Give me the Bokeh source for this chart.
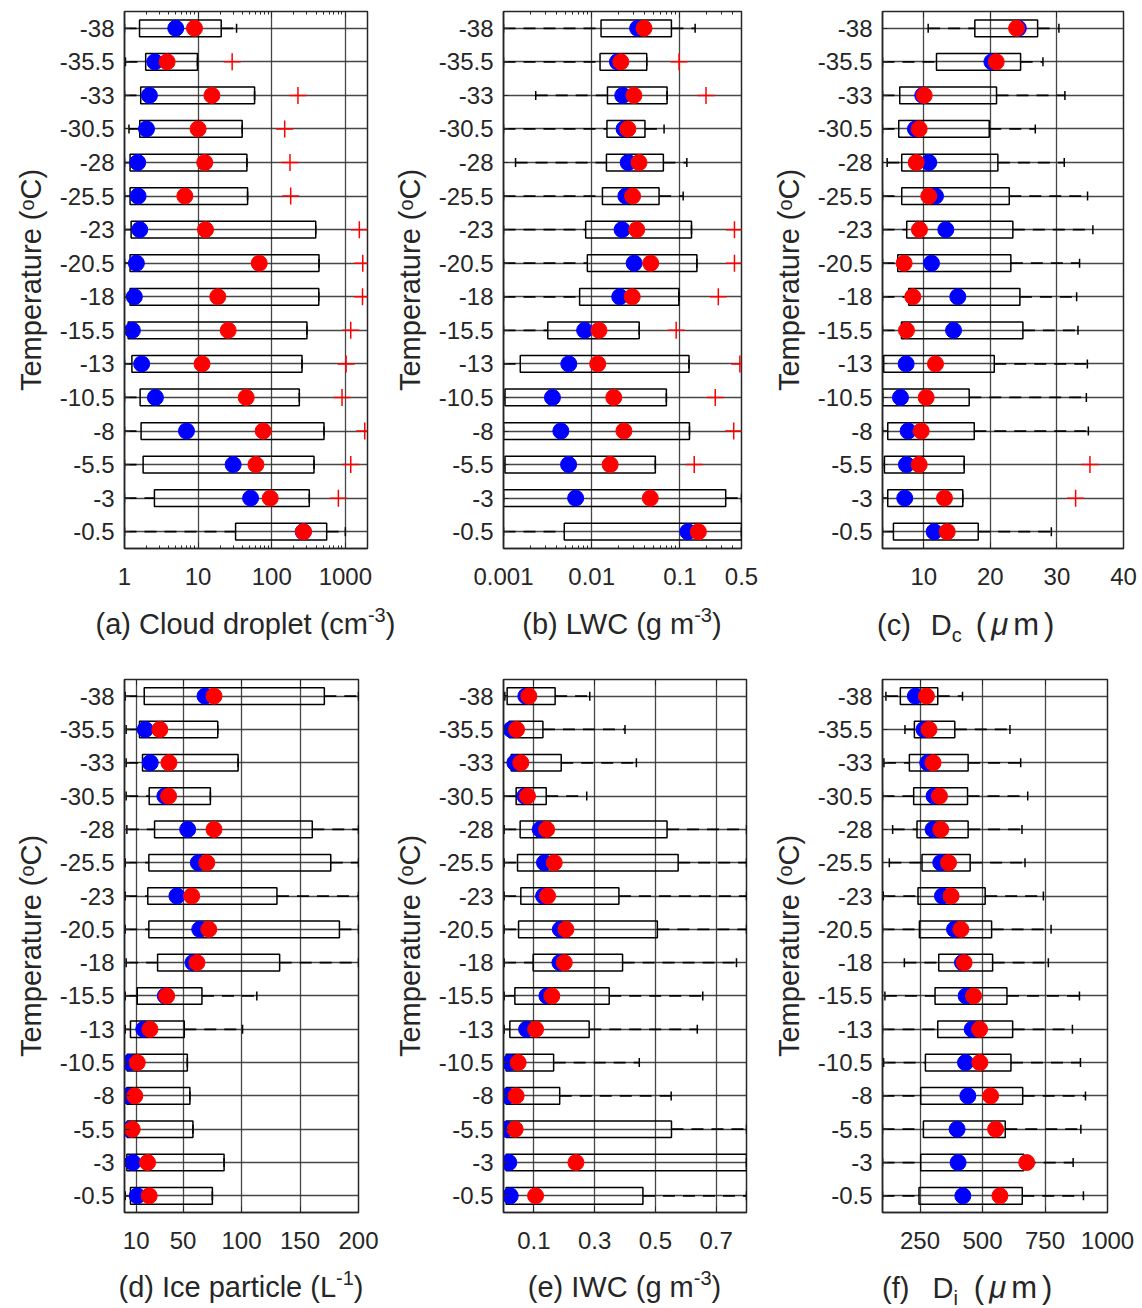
import numpy as np
from bokeh.plotting import figure
from bokeh.layouts import column, row
from bokeh.models import ColumnDataSource, FixedTicker, LinearAxis, Range1d, Div
from bokeh.embed import file_html
from bokeh.resources import INLINE

# ---------------- data ----------------
temps = ["-38", "-35.5", "-33", "-30.5", "-28", "-25.5", "-23", "-20.5",
         "-18", "-15.5", "-13", "-10.5", "-8", "-5.5", "-3", "-0.5"]
nan = float("nan")

# (a) cloud droplet number (cm^-3)
a_wlo = [1.0, 1.03, 1.0, 1.15, 1.0, 1.0, 1.0, 1.0, 1.0, 1.0, 1.0, 1.0, 1.0, 1.0, 1.0, 1.0]
a_q1 = [1.6, 1.94, 1.66, 1.61, 1.19, 1.19, 1.23, 1.19, 1.19, 1.12, 1.26, 1.63, 1.68, 1.79, 2.55, 32.3]
a_q3 = [20.6, 9.8, 58.5, 39.7, 46, 47, 396, 439, 436, 301, 258, 237, 513, 375, 324, 558]
a_whi = [33.3, 9.8, 58.5, 39.7, 46, 47, 396, 439, 436, 301, 258, 237, 513, 375, 324, 1000]
a_med = [4.97, 2.58, 2.18, 1.99, 1.51, 1.53, 1.61, 1.45, 1.36, 1.28, 1.71, 2.63, 6.95, 29.9, 51.6, 268]
a_mean = [8.93, 3.79, 15.4, 10.0, 12.3, 6.6, 12.6, 67.6, 18.5, 25.6, 11.3, 45, 76.6, 61, 95.4, 270]
a_out = [nan, 29, 227, 150, 177, 181, 1550, 1725, 1710, 1184, 1023, 902, 1836, 1184, 804, nan]

# (b) LWC (g m^-3)
b_wlo = [0.001, 0.001, 0.00232, 0.001, 0.00137, 0.001, 0.001, 0.001, 0.001, 0.001, 0.001, 0.001, 0.001, 0.001, 0.001, 0.001]
b_q1 = [0.01277, 0.01244, 0.0151, 0.0149, 0.0147, 0.01324, 0.00855, 0.00893, 0.0073, 0.00318, 0.00155, 0.00104, 0.001, 0.00104, 0.001, 0.00489]
b_q3 = [0.0802, 0.0421, 0.0716, 0.0402, 0.065, 0.0581, 0.1355, 0.156, 0.0975, 0.0346, 0.127, 0.0703, 0.1285, 0.0527, 0.331, 0.5]
b_whi = [0.149, 0.0421, 0.0716, 0.0662, 0.120, 0.109, 0.1355, 0.156, 0.0975, 0.0346, 0.127, 0.0703, 0.1285, 0.0527, 0.5, 0.5]
b_med = [0.0332, 0.0196, 0.0225, 0.0233, 0.0259, 0.0244, 0.0221, 0.0303, 0.0208, 0.00832, 0.0055, 0.00359, 0.00447, 0.00547, 0.00658, 0.123]
b_mean = [0.0392, 0.0214, 0.0301, 0.0257, 0.0344, 0.0291, 0.0324, 0.0467, 0.0288, 0.0121, 0.0117, 0.0178, 0.0232, 0.0162, 0.0462, 0.162]
b_out = [nan, 0.098, 0.198, nan, nan, nan, 0.416, 0.416, 0.273, 0.0908, 0.479, 0.252, 0.408, 0.1455, nan, nan]

# (c) Dc (um)
c_wlo = [10.66, 3.8, 3.8, 3.8, 4.5, 3.8, 3.8, 3.8, 3.8, 3.8, 3.8, 3.8, 3.8, 3.8, 3.8, 3.8]
c_q1 = [17.67, 11.91, 6.39, 6.24, 6.69, 6.69, 7.44, 6.09, 7.74, 6.65, 3.98, 3.83, 4.59, 4.09, 4.59, 5.44]
c_q3 = [27.1, 24.54, 20.93, 19.83, 21.13, 22.84, 23.38, 23.08, 24.44, 24.89, 20.59, 16.82, 17.58, 16.07, 15.86, 18.18]
c_whi = [30.3, 27.9, 31.2, 26.75, 31.1, 34.6, 35.4, 33.4, 32.96, 33.16, 34.57, 34.42, 34.72, 16.07, 15.86, 29.16]
c_med = [24.2, 20.23, 9.85, 8.75, 10.75, 11.76, 13.31, 11.16, 15.11, 14.47, 7.35, 6.5, 7.65, 7.4, 7.14, 11.56]
c_mean = [23.94, 20.88, 10.06, 9.31, 8.86, 10.75, 9.35, 7.05, 8.35, 7.4, 11.76, 10.36, 9.61, 9.31, 13.11, 13.52]
c_out = [nan, nan, nan, nan, nan, nan, nan, nan, nan, nan, nan, nan, nan, 34.96, 32.81, nan]

# (d) ice particle number (L^-1)
d_wlo = [0.6, 1.4, 1.4, 1.4, 2.0, 0.6, 0.6, 0.6, 1.4, 0.6, 0.6, 0.6, 0.6, 0.6, 0.6, 0.6]
d_q1 = [16.86, 12.83, 15.4, 21.1, 25.7, 20.8, 19.9, 20.8, 28.3, 10.9, 5.1, 2.3, 2.0, 2.3, 2.0, 5.1]
d_q3 = [170.8, 79.7, 97.1, 73.4, 160.5, 176.3, 130.3, 183.7, 132.6, 66.2, 51.1, 53.7, 55.9, 58.5, 85.1, 75.1]
d_whi = [200, 79.7, 97.1, 73.4, 200, 200, 200, 200, 200, 113.1, 100.9, 53.7, 55.9, 58.5, 85.1, 75.1]
d_med = [68.8, 17.7, 22, 34.5, 54, 63.1, 44.8, 64.3, 58.5, 34.9, 16.5, 4.3, 2.8, 4.3, 7.1, 10.9]
d_mean = [76.5, 30.2, 38, 37.7, 76.5, 70.3, 57.4, 72, 61.9, 36, 21.7, 10.9, 8.8, 6.6, 19.7, 21.1]
d_out = [nan] * 16

# (e) IWC (g m^-3)
e_wlo = [0.0044, 0.0, 0.0166, 0.0, 0.002, 0.002, 0.002, 0.002, 0.002, 0.002, 0.002, 0.0, 0.0, 0.0, 0.0, 0.0]
e_q1 = [0.012, 0.0186, 0.0252, 0.0416, 0.0548, 0.0462, 0.057, 0.0496, 0.0977, 0.0374, 0.0209, 0.0086, 0.0086, 0.0086, 0.0086, 0.0086]
e_q3 = [0.170, 0.1297, 0.190, 0.1406, 0.5385, 0.575, 0.380, 0.5065, 0.392, 0.348, 0.282, 0.165, 0.185, 0.553, 0.8, 0.459]
e_whi = [0.284, 0.400, 0.4375, 0.274, 0.8, 0.8, 0.8, 0.8, 0.767, 0.656, 0.638, 0.447, 0.552, 0.8, 0.8, 0.8]
e_med = [0.0736, 0.0252, 0.0374, 0.0703, 0.1208, 0.135, 0.132, 0.187, 0.1857, 0.143, 0.076, 0.0209, 0.0142, 0.009, 0.0175, 0.0222]
e_mean = [0.0835, 0.043, 0.057, 0.079, 0.142, 0.167, 0.145, 0.2055, 0.200, 0.159, 0.1056, 0.0482, 0.0416, 0.0384, 0.2385, 0.1056]
e_out = [nan] * 16

# (f) Di (um)
f_wlo = [113.6, 189.8, 105.6, 100, 140.5, 127.3, 103.2, 100, 187.4, 109.6, 100, 104.4, 100, 100, 100, 100]
f_q1 = [171.4, 227.5, 207.5, 224.7, 238, 258, 242, 247.6, 325, 310.2, 321, 271.7, 252.8, 263.6, 252.8, 246]
f_q3 = [321, 389.2, 442.5, 440.1, 442.5, 450.6, 510.7, 536.4, 540.4, 597.8, 620.6, 613.8, 660.8, 591, 664.8, 659.1]
f_whi = [420, 609.8, 652.7, 680.8, 658, 670, 743.4, 774.3, 763.4, 887.8, 859.7, 891.8, 911.9, 893.4, 862.5, 903.8]
f_med = [231.5, 266, 280.9, 306.2, 302.1, 333, 339.9, 388, 420, 434.5, 458.6, 432, 441.3, 398.4, 402.4, 421.3]
f_mean = [275.7, 286, 302.1, 327.8, 333, 364, 374.3, 413.3, 426.5, 464.2, 488.3, 489.5, 532.4, 552.4, 676.8, 569.7]
f_out = [nan] * 16

# axis ticks
a_ticks = [1, 10, 100, 1000]
a_ticklabels = ["1", "10", "100", "1000"]
b_ticks = [0.001, 0.01, 0.1, 0.5]
b_ticklabels = ["0.001", "0.01", "0.1", "0.5"]
c_ticks = [10, 20, 30, 40]
c_ticklabels = ["10", "20", "30", "40"]
d_ticks = [10, 50, 100, 150, 200]
d_ticklabels = ["10", "50", "100", "150", "200"]
e_ticks = [0.1, 0.3, 0.5, 0.7]
e_ticklabels = ["0.1", "0.3", "0.5", "0.7"]
f_ticks = [250, 500, 750, 1000]
f_ticklabels = ["250", "500", "750", "1000"]

# x-axis titles (HTML, with super/subscripts)
SUP = '<span style="font-size:20px;position:relative;top:-12px;line-height:0">{}</span>'
SUB = '<span style="font-size:20px;position:relative;top:7px;line-height:0">{}</span>'
UM = ('<span style="margin-left:{}px;letter-spacing:5px;font-size:31px">'
      '(<i>\u03bc</i>m)</span>')
a_xlabel = "(a) Cloud droplet (cm" + SUP.format("-3") + ")"
b_xlabel = "(b) LWC (g m" + SUP.format("-3") + ")"
c_xlabel = '<span style="word-spacing:12px">(c) D</span>' + SUB.format("c") + UM.format(14)
d_xlabel = "(d) Ice particle (L" + SUP.format("-1") + ")"
e_xlabel = "(e) IWC (g m" + SUP.format("-3") + ")"
f_xlabel = '<span style="word-spacing:15px">(f) D</span>' + SUB.format("i") + UM.format(16)

# ---------------- styling ----------------
TXT = "#262626"
FONT = "Liberation Sans"
TICK_SIZE = 24
LAB_SIZE = 29


def log_minor(lo, hi):
    out = []
    for e in range(-4, 5):
        for k in range(2, 10):
            v = k * 10.0 ** e
            if lo < v < hi:
                out.append(v)
    return out


def make_panel(xtype, xr, ticks, ticklabels, grid_ticks, data,
               width, right, height, top, bottom):
    wlo, q1, q3, whi, med, mean, out = data
    ypos = list(range(16, 0, -1))
    p = figure(width=width, height=height, x_axis_type=xtype,
               x_range=Range1d(*xr), y_range=Range1d(0.5, 16.5),
               output_backend="svg", toolbar_location=None,
               min_border_left=124, min_border_right=right,
               min_border_top=top, min_border_bottom=bottom)
    p.background_fill_color = "white"
    p.border_fill_color = "white"
    p.outline_line_color = TXT
    p.outline_line_width = 1.5

    minor = log_minor(xr[0], xr[1]) if xtype == "log" else []

    p.xgrid.ticker = FixedTicker(ticks=grid_ticks)
    p.ygrid.ticker = FixedTicker(ticks=ypos)
    for g in (p.xgrid, p.ygrid):
        g.grid_line_color = "#333333"
        g.grid_line_width = 1.3
        g.grid_line_alpha = 0.9

    xa = p.xaxis[0]
    xa.ticker = FixedTicker(ticks=ticks, minor_ticks=minor)
    xa.major_label_overrides = {t: s for t, s in zip(ticks, ticklabels)}
    xa.major_tick_in = 6
    xa.major_tick_out = 0
    xa.minor_tick_in = 3
    xa.minor_tick_out = 0
    xa.axis_line_color = TXT
    xa.axis_line_width = 1.5
    xa.major_tick_line_color = TXT
    xa.minor_tick_line_color = TXT
    xa.major_label_text_font = FONT
    xa.major_label_text_font_size = f"{TICK_SIZE}px"
    xa.major_label_text_color = TXT
    xa.major_label_standoff = 19

    ta = LinearAxis(ticker=FixedTicker(ticks=ticks, minor_ticks=minor))
    ta.major_label_overrides = {t: "" for t in ticks}
    ta.major_label_text_font_size = "0px"
    ta.major_label_standoff = 0
    ta.major_tick_in = 6
    ta.major_tick_out = 0
    ta.minor_tick_in = 3
    ta.minor_tick_out = 0
    ta.axis_line_color = TXT
    ta.major_tick_line_color = TXT
    ta.minor_tick_line_color = TXT
    p.add_layout(ta, "above")

    ya = p.yaxis[0]
    ya.ticker = FixedTicker(ticks=ypos)
    ya.major_label_overrides = {y: t for y, t in zip(ypos, temps)}
    ya.major_tick_in = 5
    ya.major_tick_out = 0
    ya.minor_tick_line_color = None
    ya.axis_line_color = TXT
    ya.axis_line_width = 1.5
    ya.major_tick_line_color = TXT
    ya.major_label_text_font = FONT
    ya.major_label_text_font_size = f"{TICK_SIZE}px"
    ya.major_label_text_color = TXT
    ya.major_label_standoff = 10
    ya.axis_label = "Temperature (\u1d52C)"
    ya.axis_label_text_font = FONT
    ya.axis_label_text_font_size = f"{LAB_SIZE}px"
    ya.axis_label_text_font_style = "normal"
    ya.axis_label_text_color = TXT
    ya.axis_label_standoff = 10

    src = ColumnDataSource(dict(y=ypos, wlo=wlo, q1=q1, q3=q3, whi=whi, med=med, mean=mean))

    p.segment(x0="wlo", y0="y", x1="q1", y1="y", source=src, line_color="black",
              line_width=1.8, line_dash="12 8")
    p.segment(x0="q3", y0="y", x1="whi", y1="y", source=src, line_color="black",
              line_width=1.8, line_dash="12 8")
    p.scatter(x="wlo", y="y", source=src, marker="dash", angle=np.pi / 2, size=9,
              line_color="black", line_width=1.5)
    p.scatter(x="whi", y="y", source=src, marker="dash", angle=np.pi / 2, size=9,
              line_color="black", line_width=1.5)
    p.hbar(y="y", left="q1", right="q3", height=0.5, source=src, fill_color=None,
           line_color="black", line_width=1.5)
    p.scatter(x="med", y="y", source=src, size=16, fill_color="#0000ff", line_color="#0000ff")
    p.scatter(x="mean", y="y", source=src, size=16, fill_color="#ff0000", line_color="#ff0000")
    oy = [y for y, o in zip(ypos, out) if not np.isnan(o)]
    ox = [o for o in out if not np.isnan(o)]
    if ox:
        p.scatter(x=ox, y=oy, marker="cross", size=17, line_color="#ff0000", line_width=1.5)
    return p


def label_row(labels, anchors, height, top):
    parts = []
    for lab, (kind, ax) in zip(labels, anchors):
        shift = "transform:translateX(-50%);" if kind == "center" else ""
        parts.append(
            f'<div style="position:absolute;left:{ax}px;top:{top}px;{shift}'
            f'white-space:nowrap;font-size:{LAB_SIZE}px;'
            f'line-height:{LAB_SIZE}px;">{lab}</div>')
    html = (f'<div style="position:relative;width:1142px;height:{height}px;'
            f"font-family:'{FONT}',Arial,sans-serif;color:{TXT};\">"
            + "".join(parts) + "</div>")
    return Div(text=html, width=1142, height=height, margin=0)


pa = make_panel("log", (1, 2000), a_ticks, a_ticklabels, [10, 100, 1000],
                (a_wlo, a_q1, a_q3, a_whi, a_med, a_mean, a_out), 379, 12, 600, 11, 52)
pb = make_panel("log", (0.001, 0.5), b_ticks, b_ticklabels, [0.01, 0.1, 0.5],
                (b_wlo, b_q1, b_q3, b_whi, b_med, b_mean, b_out), 379, 17, 600, 11, 52)
pc = make_panel("linear", (3.8, 40), c_ticks, c_ticklabels, [10, 20, 30],
                (c_wlo, c_q1, c_q3, c_whi, c_med, c_mean, c_out), 384, 19, 600, 11, 52)
pd_ = make_panel("linear", (0, 200), d_ticks, d_ticklabels, [10, 50, 100, 150],
                 (d_wlo, d_q1, d_q3, d_whi, d_med, d_mean, d_out), 379, 21, 604, 19, 52)
pe = make_panel("linear", (0, 0.8), e_ticks, e_ticklabels, [0.1, 0.3, 0.5, 0.7],
                (e_wlo, e_q1, e_q3, e_whi, e_med, e_mean, e_out), 379, 12, 604, 19, 52)
pf = make_panel("linear", (100, 1000), f_ticks, f_ticklabels, [250, 500, 750],
                (f_wlo, f_q1, f_q3, f_whi, f_med, f_mean, f_out), 384, 35, 604, 19, 52)

top_labels = label_row([a_xlabel, b_xlabel, c_xlabel],
                       [("center", 245.5), ("center", 622), ("left", 877)], 60, 9.5)
bot_labels = label_row([d_xlabel, e_xlabel, f_xlabel],
                       [("center", 241), ("center", 624.5), ("left", 882)], 44, 8.5)

layout = column(row(pa, pb, pc, spacing=0), top_labels,
                row(pd_, pe, pf, spacing=0), bot_labels, spacing=0)

open("out.html", "w").write(file_html(layout, INLINE))
